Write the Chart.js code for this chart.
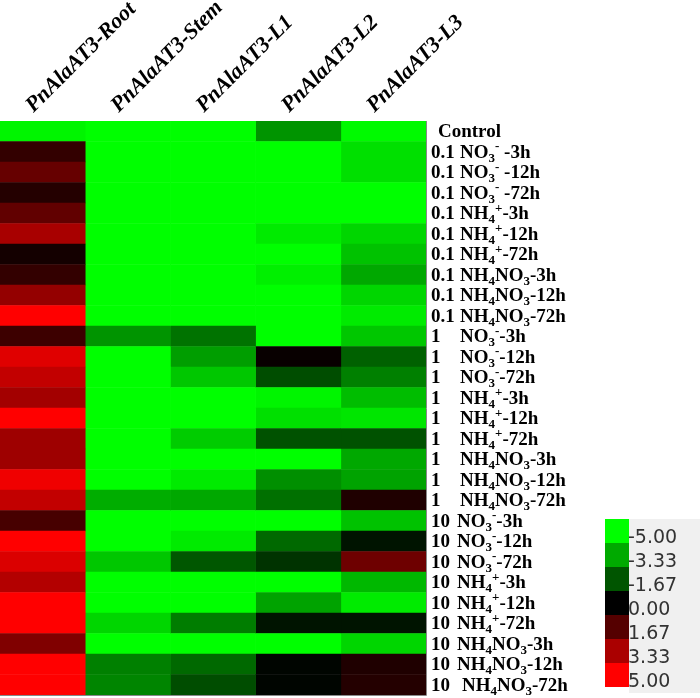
<!DOCTYPE html>
<html>
<head>
<meta charset="utf-8">
<script src="https://cdn.jsdelivr.net/npm/chart.js@4/dist/chart.umd.min.js"></script>
<style>
html,body{margin:0;padding:0;background:#fff;}
#wrap{width:700px;height:698px;position:relative;}
</style>
</head>
<body>
<div id="wrap"><canvas id="c" width="700" height="698"></canvas></div>
<script>
// ---- data ----
const columnLabels = ["PnAlaAT3-Root","PnAlaAT3-Stem","PnAlaAT3-L1","PnAlaAT3-L2","PnAlaAT3-L3"];
const concLabels = ["","0.1","0.1","0.1","0.1","0.1","0.1","0.1","0.1","0.1",
  "1","1","1","1","1","1","1","1","1",
  "10","10","10","10","10","10","10","10","10"];
const speciesLabels = ["Control",
  "NO_{3}^{-} -3h","NO_{3}^{-} -12h","NO_{3}^{-} -72h","NH_{4}^{+}-3h","NH_{4}^{+}-12h","NH_{4}^{+}-72h","NH_{4}NO_{3}-3h","NH_{4}NO_{3}-12h","NH_{4}NO_{3}-72h",
  "NO_{3}^{-}-3h","NO_{3}^{-}-12h","NO_{3}^{-}-72h","NH_{4}^{+}-3h","NH_{4}^{+}-12h","NH_{4}^{+}-72h","NH_{4}NO_{3}-3h","NH_{4}NO_{3}-12h","NH_{4}NO_{3}-72h",
  "NO_{3}^{-}-3h","NO_{3}^{-}-12h","NO_{3}^{-}-72h","NH_{4}^{+}-3h","NH_{4}^{+}-12h","NH_{4}^{+}-72h","NH_{4}NO_{3}-3h","NH_{4}NO_{3}-12h","NH_{4}NO_{3}-72h"];
const rootValues = [-4.8, 1.0, 2.0, 0.7, 1.9, 3.3, 0.4, 1.0, 2.9, 5.0,
  1.2, 4.4, 3.8, 3.2, 5.0, 3.1, 3.1, 4.7, 3.8,
  1.4, 5.0, 4.3, 3.5, 5.0, 5.0, 2.5, 5.0, 5.0];
const stemValues = [-5,-5,-5,-5,-5,-5,-5,-5,-5,-5,
  -2.9,-5,-5,-5,-5,-5,-5,-5,-3.4,
  -5,-5,-3.9,-5,-5,-4.2,-5,-2.5,-2.6];
const l1Values = [-5,-5,-5,-5,-5,-5,-5,-5,-5,-5,
  -2.25,-3.1,-3.9,-5,-5,-4.0,-5,-4.6,-3.3,
  -5,-4.6,-1.7,-5,-5,-2.45,-5,-2.05,-1.5];
const l2Values = [-2.9,-5,-5,-5,-5,-4.6,-5,-4.7,-5,-5,
  -5,0.15,-1.5,-4.8,-4.4,-1.6,-5,-2.8,-2.2,
  -5,-2.05,-1.0,-5,-3.2,-0.4,-5,-0.1,-0.1];
const l3Values = [-4.9,-4.4,-4.4,-5,-5,-4.2,-3.8,-3.3,-4.2,-4.6,
  -3.9,-1.9,-2.5,-3.7,-4.5,-1.6,-3.3,-3.2,0.6,
  -3.8,-0.4,2.15,-3.6,-4.6,-0.4,-4.2,0.6,0.7];
const legendTicks = ["-5.00","-3.33","-1.67","0.00","1.67","3.33","5.00"];
const legendValues = [-5,-3.33,-1.67,0,1.67,3.33,5];

const allValues = [rootValues, stemValues, l1Values, l2Values, l3Values];

function colorFor(v){
  const t = Math.max(-1, Math.min(1, v/5));
  if (t < 0) return 'rgb(0,' + Math.round(-t*255) + ',0)';
  return 'rgb(' + Math.round(t*255) + ',0,0)';
}

const rowKeys = speciesLabels.map((s,i)=>i);
const datasets = allValues.map((vals, c) => ({
  label: columnLabels[c],
  data: vals.map(() => [c, c+1]),
  backgroundColor: vals.map(colorFor),
  borderWidth: 0,
  barPercentage: 1,
  categoryPercentage: 1,
  grouped: false
}));

const SERIF = '"Liberation Serif", "Times New Roman", serif';
function drawRich(ctx, text, x, y, size){
  const re = /(_\{[^}]*\}|\^\{[^}]*\})/g;
  const parts = text.split(re).filter(p => p.length);
  let cx = x;
  const small = Math.round(size*0.66);
  for (const p of parts){
    if (p.startsWith('_{')){
      const t = p.slice(2,-1);
      ctx.font = 'bold ' + small + 'px ' + SERIF;
      ctx.fillText(t, cx, y + size*0.3);
      cx += ctx.measureText(t).width;
    } else if (p.startsWith('^{')){
      const t = p.slice(2,-1);
      ctx.font = 'bold ' + small + 'px ' + SERIF;
      ctx.fillText(t, cx, y - size*0.3);
      cx += ctx.measureText(t).width;
    } else {
      ctx.font = 'bold ' + size + 'px ' + SERIF;
      ctx.fillText(p, cx, y);
      cx += ctx.measureText(p).width;
    }
  }
}

const labelPlugin = {
  id: 'labels',
  afterDraw(chart){
    const ctx = chart.ctx;
    const ys = chart.scales.y;
    const xs = chart.scales.x;
    const area = chart.chartArea;
    ctx.save();
    ctx.strokeStyle = '#888';
    ctx.lineWidth = 1;
    ctx.beginPath();
    ctx.moveTo(area.right+0.5, area.top);
    ctx.lineTo(area.right+0.5, area.bottom+0.5);
    ctx.lineTo(area.left, area.bottom+0.5);
    ctx.stroke();
    // row labels
    ctx.fillStyle = '#000';
    ctx.textBaseline = 'middle';
    ctx.textAlign = 'left';
    const size = 19;
    for (let i = 0; i < speciesLabels.length; i++){
      const y = ys.getPixelForValue(i) + 1;
      if (concLabels[i] === ''){
        drawRich(ctx, speciesLabels[i], area.right + 12, y, size);
        continue;
      }
      ctx.font = 'bold ' + size + 'px ' + SERIF;
      ctx.fillText(concLabels[i], area.right + 5, y);
      let sx = area.right + 34;
      if (concLabels[i] === '10') sx = area.right + 31;
      if (i === speciesLabels.length - 1) sx = area.right + 36;
      drawRich(ctx, speciesLabels[i], sx, y, size);
    }
    // column headers
    ctx.font = 'bold italic 22px ' + SERIF;
    ctx.textBaseline = 'alphabetic';
    for (let c = 0; c < columnLabels.length; c++){
      const cxp = (xs.getPixelForValue(c) + xs.getPixelForValue(c+1)) / 2;
      ctx.save();
      ctx.translate(cxp - 9, area.top - 8);
      ctx.rotate(-Math.PI/4);
      ctx.fillText(columnLabels[c], 0, 0);
      ctx.restore();
    }
    // legend
    const lx = 605, lw = 24, ly = 519, lh = 24;
    ctx.fillStyle = '#f0f0f0';
    ctx.fillRect(lx + lw, ly, 700 - (lx + lw), lh*legendValues.length + 6);
    for (let k = 0; k < legendValues.length; k++){
      ctx.fillStyle = colorFor(legendValues[k]);
      ctx.fillRect(lx, ly + k*lh, lw, lh);
    }
    ctx.fillStyle = '#333';
    ctx.font = '19px "DejaVu Sans", sans-serif';
    ctx.textBaseline = 'middle';
    for (let k = 0; k < legendTicks.length; k++){
      ctx.fillText(legendTicks[k], lx + lw - 1, ly + (k+1)*lh - 5);
    }
    ctx.restore();
  }
};

new Chart(document.getElementById('c'), {
  type: 'bar',
  data: { labels: rowKeys, datasets: datasets },
  options: {
    indexAxis: 'y',
    responsive: false,
    animation: false,
    layout: { padding: { left: 0, top: 121, right: 274, bottom: 3 } },
    plugins: { legend: { display: false }, tooltip: { enabled: false } },
    scales: {
      x: { type: 'linear', min: 0, max: 5, display: false },
      y: { type: 'category', display: false, offset: true }
    }
  },
  plugins: [labelPlugin]
});
</script>
</body>
</html>
